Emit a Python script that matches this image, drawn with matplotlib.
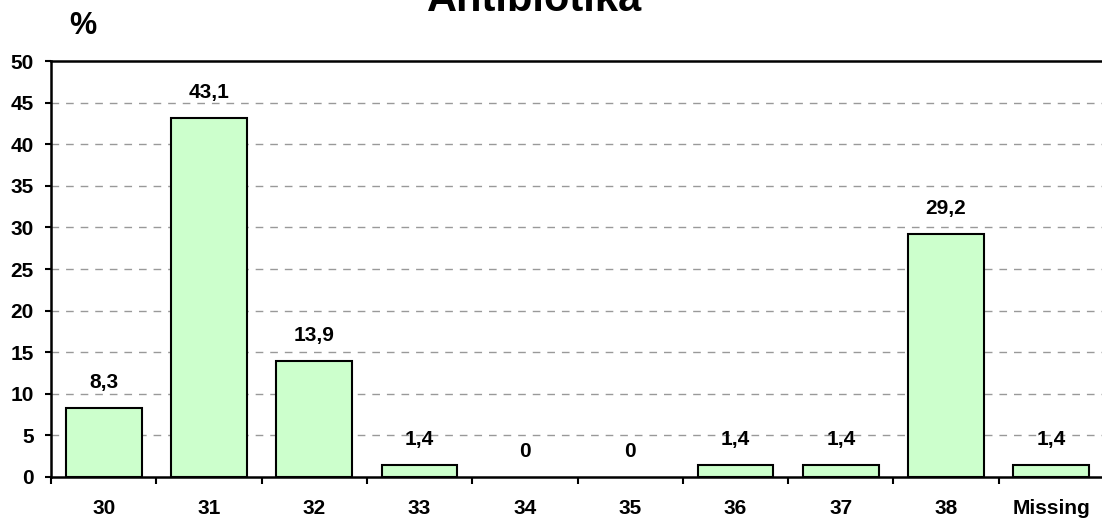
import matplotlib
matplotlib.use("Agg")
import matplotlib.pyplot as plt
import numpy as np

categories = ["30", "31", "32", "33", "34", "35", "36", "37", "38", "Missing"]
values = [8.3, 43.1, 13.9, 1.4, 0, 0, 1.4, 1.4, 29.2, 1.4]
value_labels = ["8,3", "43,1", "13,9", "1,4", "0", "0", "1,4", "1,4", "29,2", "1,4"]
yticks = [0, 5, 10, 15, 20, 25, 30, 35, 40, 45, 50]

plt.rcParams['font.family'] = ['Liberation Sans', 'DejaVu Sans']
W, H = 1102, 519
fig = plt.figure(figsize=(W/100, H/100), dpi=100)
ax = fig.add_axes([51/W, 1 - 477/H, 1053/W, 416/H])

x = np.arange(len(categories))
mask = [v > 0 for v in values]
ax.bar(x[mask], np.array(values)[mask], width=0.72, color="#CCFFCC", edgecolor="black", linewidth=1.5, zorder=3)

for xi, v, lab in zip(x, values, value_labels):
    ax.annotate(lab, (xi, v), xytext=(0, 14.5), textcoords="offset points",
                ha="center", va="baseline", fontsize=15, fontweight="bold")

ax.set_xlim(-0.5, len(categories) - 0.5)
ax.set_ylim(0, 50)
ax.set_yticks(yticks)
ax.set_yticklabels([str(t) for t in yticks], fontsize=15, fontweight="bold")
ax.set_xticks(x)
ax.set_xticklabels(categories, fontsize=15, fontweight="bold")
ax.set_xticks(np.arange(-0.5, len(categories) - 0.4, 1), minor=True)
ax.tick_params(axis="x", which="major", length=0, pad=16)
ax.tick_params(axis="x", which="minor", length=5, width=1.5, direction="out")
ax.tick_params(axis="y", length=4.5, width=1.5, direction="out", pad=8)

for t in yticks[1:-1]:
    ax.axhline(t, color="#999999", linestyle=(0, (5.5, 5)), linewidth=1, zorder=1)

for s in ["left", "bottom", "top"]:
    ax.spines[s].set_linewidth(1.8)
ax.spines["right"].set_visible(False)

fig.text(535/W, 1 - 11/H, "Antibiotika", ha="center", va="baseline", fontsize=30, fontweight="bold")
fig.text(83/W, 1 - 26/H, "%", ha="center", va="center", fontsize=22, fontweight="bold")

fig.savefig("out.png", dpi=100)
